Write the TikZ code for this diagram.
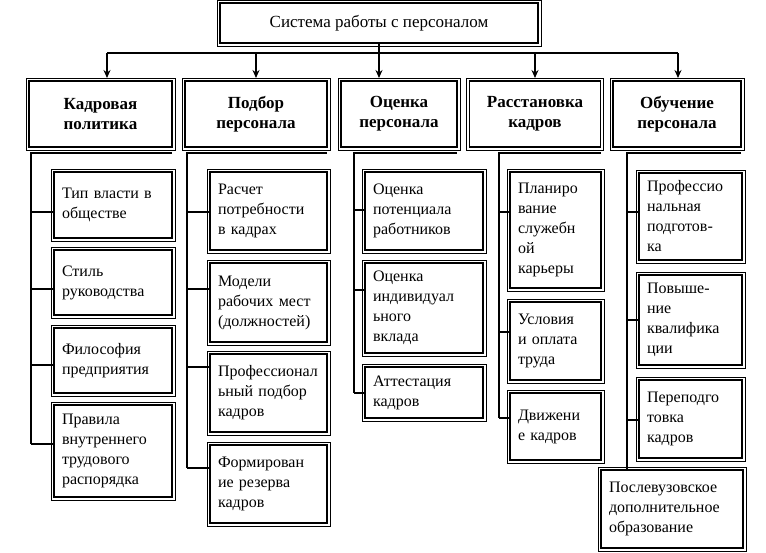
\documentclass[tikz,border=0pt]{standalone}
\usepackage{fontspec}
\setmainfont{Liberation Serif}
\usetikzlibrary{arrows.meta}

\tikzset{
  box/.style={draw, line width=1.3pt, inner sep=0pt, outer sep=0pt,
    append after command={\pgfextra{\let\boxnode\tikzlastnode
      \draw[line width=0.5pt] ([shift={(-3pt,3pt)}]\boxnode.north west)
        rectangle ([shift={(3pt,-3pt)}]\boxnode.south east);}}},
  head/.style={box, align=center, font=\fontsize{17}{20}\selectfont\bfseries},
  item/.style={box, align=left, inner xsep=8pt, font=\fontsize{16}{20}\selectfont},
  link/.style={draw=black, line width=1.5pt},
  arr/.style={draw=black, line width=1.4pt, shorten >=3pt, -{Stealth[length=8pt, width=7pt]}}
}

\begin{document}
\begin{tikzpicture}[x=1pt, y=-1pt]
  \useasboundingbox (0,0) rectangle (766,552);

  % Верхний блок
  \node[box, minimum width=318, minimum height=40,
        font=\fontsize{17}{20}\selectfont] (top) at (379,23)
    {Система работы с персоналом};

  % Направления
  \foreach \n/\x/\w/\t in {
    h1/100.5/143/{Кадровая\\политика},
    h2/256/142/{Подбор\\персонала},
    h3/399/116/{Оценка\\персонала},
    h4/535/131/{Расстановка\\кадров},
    h5/677/128/{Обучение\\персонала}}{
    \node[head, minimum width=\w, minimum height=66] (\n) at (\x,114) {\t};
  }

  % Шина и стрелки
  \coordinate (bl) at (107,53);
  \coordinate (br) at (678,53);
  \draw[link] (bl) -- (br);
  \draw[arr] (top.south) -- (top.south |- h3.north);
  \draw[arr] (bl) -- (bl |- h1.north);
  \draw[arr] (h2.north |- bl) -- (h2.north);
  \draw[arr] (h4.north |- bl) -- (h4.north);
  \draw[arr] (br) -- (br |- h5.north);

  % Стволы колонок
  \coordinate (t1) at (31,150);
  \coordinate (t2) at (187,150);
  \coordinate (t3) at (354,150);
  \coordinate (t4) at (499,150);
  \coordinate (t5) at (627,150);

  % Кадровая политика
  \foreach \n/\y/\h/\c/\t in {
    a1/205/66/212/{Тип власти в\\обществе},
    a2/282.5/65/289/{Стиль\\руководства},
    a3/360.5/65/365/{Философия\\предприятия},
    a4/451/92/444/{Правила\\внутреннего\\трудового\\распорядка}}{
    \node[item, text width=102, minimum height=\h] (\n) at (113,\y) {\t};
    \draw[link] (t1 |- 0,\c) -- (\n.west |- 0,\c);
  }
  \draw[link] ([yshift=-6pt]h1.south east) -| (t1 |- 0,444);

  % Подбор персонала
  \foreach \n/\y/\h/\c/\t in {
    b1/211/78/212/{Расчет\\потребности\\в кадрах},
    b2/302.5/79/289/{Модели\\рабочих мест\\(должностей)},
    b3/393/78/367/{Профессионал\\ьный подбор\\кадров},
    b4/484/78/468/{Формирован\\ие резерва\\кадров}}{
    \node[item, text width=101, minimum height=\h] (\n) at (268.5,\y) {\t};
    \draw[link] (t2 |- 0,\c) -- (\n.west |- 0,\c);
  }
  \draw[link] ([yshift=-6pt]h2.south east) -| (t2 |- 0,468);

  % Оценка персонала
  \foreach \n/\y/\h/\c/\t in {
    c1/211/78/210/{Оценка\\потенциала\\работников},
    c2/308/90/290/{Оценка\\индивидуал\\ьного\\вклада},
    c3/392.5/51/393/{Аттестация\\кадров}}{
    \node[item, text width=102, minimum height=\h] (\n) at (424,\y) {\t};
    \draw[link] (t3 |- 0,\c) -- (\n.west |- 0,\c);
  }
  \draw[link] ([yshift=-6pt]h3.south east) -| (t3 |- 0,393);

  % Расстановка кадров
  \foreach \n/\y/\h/\c/\t in {
    d1/230/116/212/{Планиро\\вание\\служебн\\ой\\карьеры},
    d2/341/78/332/{Условия\\и оплата\\труда},
    d3/426.5/67/418/{Движени\\е кадров}}{
    \node[item, text width=75, minimum height=\h] (\n) at (555.5,\y) {\t};
    \draw[link] (t4 |- 0,\c) -- (\n.west |- 0,\c);
  }
  \draw[link] ([yshift=-6pt]h4.south east) -| (t4 |- 0,418);

  % Обучение персонала
  \foreach \n/\y/\h/\c/\t in {
    e1/216.5/87/212/{Профессио\\нальная\\подготов-\\ка},
    e2/320/90/320/{Повыше-\\ние\\квалифика\\ции},
    e3/419/78/420/{Переподго\\товка\\кадров}}{
    \node[item, text width=87, minimum height=\h] (\n) at (690.5,\y) {\t};
    \draw[link] (t5 |- 0,\c) -- (\n.west |- 0,\c);
  }
  \node[item, text width=126, minimum height=78] (e4) at (672,509)
    {Послевузовское\\дополнительное\\образование};
  \draw[link] ([yshift=-6pt]h5.south east) -| (t5 |- e4.north);
\end{tikzpicture}
\end{document}
